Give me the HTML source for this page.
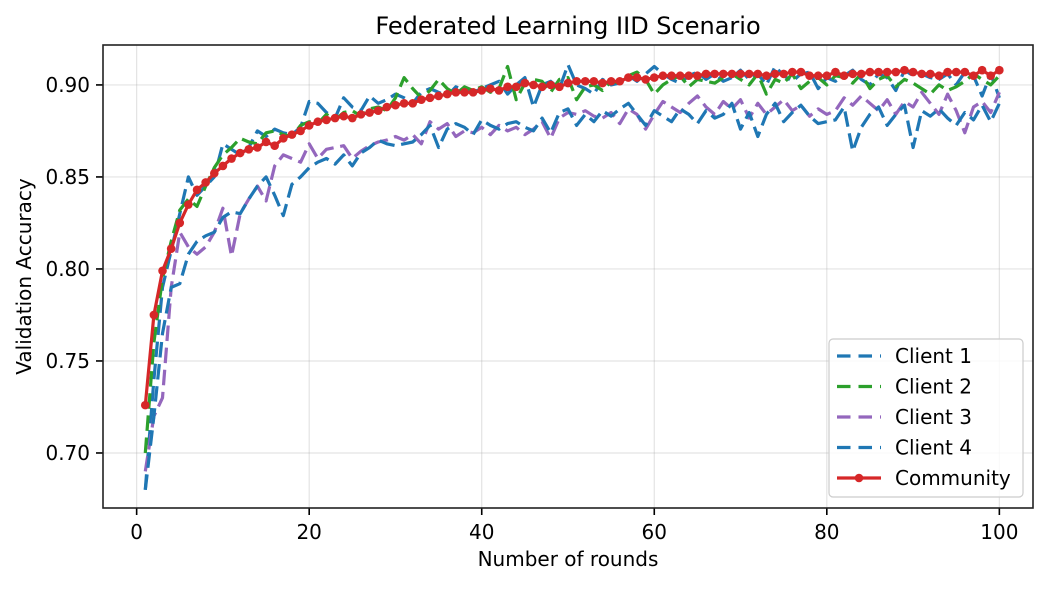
<!DOCTYPE html>
<html><head><meta charset="utf-8"><style>
body{margin:0;background:#fff;font-family:"Liberation Sans","DejaVu Sans",sans-serif;}
svg text{font-family:"DejaVu Sans","Liberation Sans",sans-serif;fill:#000;}
</style></head><body>
<svg id="chart" width="1049" height="586" viewBox="0 0 1049 586" xmlns="http://www.w3.org/2000/svg"></svg>
<script>
const rounds=Array.from({length:100},(_,i)=>i+1);
const xTicks=[0,20,40,60,80,100];
const yTicks=[0.70,0.75,0.80,0.85,0.90];
const seriesNames=["Client 1","Client 2","Client 3","Client 4","Community"];
const client1=[.680,.740,.790,.810,.830,.850,.840,.845,.850,.868,.865,.862,.866,.875,.872,.876,.874,.873,.877,.891,.890,.885,.882,.893,.888,.886,.894,.890,.892,.895,.893,.890,.896,.898,.896,.894,.899,.897,.896,.898,.900,.902,.895,.900,.904,.888,.900,.902,.898,.911,.900,.898,.895,.903,.900,.901,.905,.902,.906,.910,.906,.903,.901,.905,.907,.903,.906,.902,.904,.908,.903,.906,.900,.910,.905,.902,.906,.907,.898,.904,.902,.905,.908,.903,.900,.906,.904,.897,.908,.905,.906,.904,.903,.906,.900,.907,.905,.894,.906,.893];
const client2=[.700,.760,.795,.815,.832,.838,.834,.845,.855,.862,.866,.871,.869,.868,.874,.875,.873,.872,.878,.880,.879,.884,.881,.885,.886,.883,.887,.888,.886,.893,.904,.898,.893,.897,.903,.898,.895,.899,.897,.899,.896,.898,.910,.892,.901,.903,.902,.896,.903,.904,.892,.899,.900,.897,.902,.901,.905,.907,.903,.895,.900,.903,.905,.899,.903,.902,.901,.904,.906,.903,.900,.906,.895,.903,.901,.906,.898,.902,.904,.900,.905,.904,.901,.906,.898,.903,.905,.899,.903,.901,.898,.895,.900,.897,.899,.902,.906,.903,.900,.905];
const client3=[.690,.720,.730,.790,.820,.812,.808,.812,.820,.833,.807,.830,.838,.845,.837,.856,.862,.860,.858,.868,.860,.865,.866,.867,.860,.864,.867,.869,.870,.872,.870,.873,.868,.880,.876,.879,.872,.875,.874,.877,.873,.878,.875,.877,.873,.876,.880,.871,.882,.885,.884,.886,.883,.882,.885,.879,.887,.884,.876,.884,.891,.888,.885,.890,.894,.888,.884,.891,.887,.892,.882,.890,.884,.888,.892,.886,.889,.883,.887,.884,.886,.893,.889,.894,.890,.886,.892,.884,.891,.888,.896,.890,.884,.895,.886,.874,.888,.891,.885,.896];
const client4=[.680,.720,.765,.790,.792,.808,.815,.818,.820,.828,.831,.830,.838,.845,.850,.840,.829,.846,.850,.855,.858,.860,.857,.862,.856,.863,.866,.870,.868,.867,.868,.869,.873,.878,.866,.876,.879,.877,.873,.881,.878,.876,.879,.880,.877,.875,.882,.874,.885,.887,.878,.884,.880,.886,.883,.887,.890,.884,.878,.886,.883,.880,.887,.884,.879,.886,.882,.884,.890,.876,.885,.872,.884,.890,.880,.885,.889,.883,.879,.880,.881,.888,.864,.877,.884,.888,.878,.884,.889,.866,.886,.883,.887,.882,.878,.885,.881,.889,.880,.890];
const community=[.726,.775,.799,.811,.825,.835,.843,.847,.852,.856,.860,.863,.865,.866,.869,.867,.871,.873,.875,.878,.880,.881,.882,.883,.882,.884,.885,.886,.888,.889,.890,.890,.892,.893,.894,.895,.896,.896,.896,.897,.898,.897,.899,.899,.901,.900,.899,.900,.899,.901,.902,.902,.902,.901,.902,.902,.904,.904,.903,.904,.905,.905,.905,.905,.905,.906,.906,.906,.906,.906,.906,.906,.905,.906,.906,.907,.907,.905,.905,.905,.907,.905,.906,.906,.907,.907,.907,.907,.908,.907,.906,.906,.905,.907,.907,.907,.905,.908,.905,.908];

const NS="http://www.w3.org/2000/svg";
const svg=document.getElementById('chart');
const L=103,R=1033,T=45,B=508;
const xMin=-3.9,xMax=103.9,yMin=0.6701,yMax=0.9217;
const xS=v=>L+(v-xMin)/(xMax-xMin)*(R-L);
const yS=v=>B-(v-yMin)/(yMax-yMin)*(B-T);
function mk(tag,attrs,parent){const e=document.createElementNS(NS,tag);for(const k in attrs)e.setAttribute(k,attrs[k]);(parent||svg).appendChild(e);return e;}

const grid=mk('g',{});


xTicks.forEach(t=>{mk('line',{x1:xS(t),x2:xS(t),y1:T,y2:B,stroke:'#b0b0b0','stroke-opacity':0.35,'stroke-width':1.2},grid);});
yTicks.forEach(t=>{mk('line',{x1:L,x2:R,y1:yS(t),y2:yS(t),stroke:'#b0b0b0','stroke-opacity':0.35,'stroke-width':1.2},grid);});

const xAxis=mk('g',{});


xTicks.forEach(t=>{mk('line',{x1:xS(t),x2:xS(t),y1:B,y2:B+7,stroke:'#000','stroke-width':1.6},xAxis);
 const tx=mk('text',{x:xS(t),y:B+31,'text-anchor':'middle','font-size':20},xAxis);tx.textContent=t;
 
 });
const yAxis=mk('g',{});


yTicks.forEach(t=>{mk('line',{x1:L-7,x2:L,y1:yS(t),y2:yS(t),stroke:'#000','stroke-width':1.6},yAxis);
 const tx=mk('text',{x:L-13,y:yS(t)+7,'text-anchor':'end','font-size':20},yAxis);tx.textContent=t.toFixed(2);
 
 });

const colors=['#1f77b4','#2ca02c','#9467bd','#1f77b4','#d62728'];
const data=[client1,client2,client3,client4,community];
const ids=['client-1-line','client-2-line','client-3-line','client-4-line','community-line'];
data.forEach((arr,si)=>{
 const d=arr.map((v,i)=>(i?'L':'M')+xS(rounds[i]).toFixed(1)+','+yS(v).toFixed(1)).join(' ');
 const p=mk('path',{d:d,fill:'none',stroke:colors[si],'stroke-width':3.2,'stroke-linejoin':'round'});
 if(si<4)p.setAttribute('stroke-dasharray','15.5,6.7');
 
 
 if(si==4){const g=mk('g',{});
  
  
  arr.forEach((v,i)=>{mk('circle',{cx:xS(rounds[i]),cy:yS(v),r:4.3,fill:colors[4]},g);});}
});

mk('rect',{x:L,y:T,width:R-L,height:B-T,fill:'none',stroke:'#222','stroke-width':1.6});
const title=mk('text',{x:(L+R)/2,y:34,'text-anchor':'middle','font-size':24});title.textContent='Federated Learning IID Scenario';


const xl=mk('text',{x:(L+R)/2,y:566,'text-anchor':'middle','font-size':20});xl.textContent='Number of rounds';


const yl=mk('text',{x:0,y:0,'text-anchor':'middle','font-size':20,transform:'translate(31,'+((T+B)/2)+') rotate(-90)'});yl.textContent='Validation Accuracy';



const lg=mk('g',{});


mk('rect',{x:829,y:339,width:194,height:158,rx:4,fill:'#fff','fill-opacity':0.8,stroke:'#ccc','stroke-width':1.2},lg);
seriesNames.forEach((n,i)=>{
 const y=356+i*30.5;
 const e=mk('g',{},lg);
 
 
 const ln=mk('line',{x1:837,x2:881,y1:y,y2:y,stroke:colors[i],'stroke-width':3.2},e);
 if(i<4)ln.setAttribute('stroke-dasharray','13.5,8');
 else mk('circle',{cx:859,cy:y,r:4.3,fill:colors[4]},e);
 const t=mk('text',{x:895,y:y+7,'font-size':20},e);t.textContent=n;
});
</script>
</body></html>
